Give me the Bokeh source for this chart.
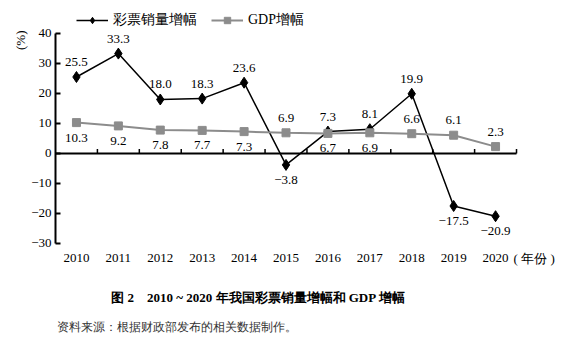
from bokeh.plotting import figure
from bokeh.models import (ColumnDataSource, FixedTicker, Range1d, Title,
                          Label, Legend, LegendItem)
from bokeh.core.properties import value
from bokeh.embed import file_html
from bokeh.resources import INLINE

# ---- data ----
years = [2010, 2011, 2012, 2013, 2014, 2015, 2016, 2017, 2018, 2019, 2020]
lottery_growth = [25.5, 33.3, 18.0, 18.3, 23.6, -3.8, 7.3, 8.1, 19.9, -17.5, -20.9]
gdp_growth = [10.3, 9.2, 7.8, 7.7, 7.3, 6.9, 6.7, 6.9, 6.6, 6.1, 2.3]
lottery_label_above = [True, True, True, True, True, False, True, True, True, False, False]
gdp_label_above = [False, False, False, False, False, True, False, False, True, True, True]
y_ticks = [-30, -20, -10, 0, 10, 20, 30, 40]
series_names = ["彩票销量增幅", "GDP增幅"]

SERIF = "Liberation Serif"
GRAY = "#8c8c8c"


def fmt(v):
    return f"{v:.1f}".replace("-", "\u2212")


lot_src = ColumnDataSource(dict(x=years, y=lottery_growth))
gdp_src = ColumnDataSource(dict(x=years, y=gdp_growth))

above_x, above_y, above_t, below_x, below_y, below_t = [], [], [], [], [], []
for vals, flags in ((lottery_growth, lottery_label_above), (gdp_growth, gdp_label_above)):
    for yr, v, up in zip(years, vals, flags):
        if up:
            above_x.append(yr); above_y.append(v); above_t.append(fmt(v))
        else:
            below_x.append(yr); below_y.append(v); below_t.append(fmt(v))
above_src = ColumnDataSource(dict(x=above_x, y=above_y, txt=above_t))
below_src = ColumnDataSource(dict(x=below_x, y=below_y, txt=below_t))

y_min, y_max = y_ticks[0], y_ticks[-1]
x_lo, x_hi = years[0] - 0.5, years[-1] + 0.5

p = figure(width=578, height=344, output_backend="svg", toolbar_location=None,
           x_axis_location=None,
           x_range=Range1d(x_lo, x_hi + 1.479), y_range=Range1d(y_min - 33.667, y_max + 11),
           min_border_left=55, min_border_right=0, min_border_top=0,
           min_border_bottom=0)
p.title.visible = False
p.outline_line_color = None
p.xgrid.visible = False
p.ygrid.visible = False
p.background_fill_color = "white"
p.border_fill_color = "white"

# y axis
ya = p.yaxis[0]
ya.ticker = FixedTicker(ticks=y_ticks)
ya.bounds = (y_min, y_max)
ya.major_label_overrides = {t: str(t).replace("-", "\u2212") for t in y_ticks if t < 0}
ya.major_tick_in = 5
ya.major_tick_out = 0
ya.minor_tick_line_color = None
ya.axis_line_width = 2
ya.major_tick_line_width = 2
ya.major_label_standoff = 4
ya.major_label_text_font = SERIF
ya.major_label_text_font_size = "13px"
ya.major_label_text_color = "black"

# unit label of the y axis
p.add_layout(Title(text="(%)", align="right", offset=30, standoff=2,
                   text_font=SERIF, text_font_size="13px", text_font_style="normal",
                   text_color="black"), "left")

# year labels under the plot area
yr_src = ColumnDataSource(dict(x=years, y=[y_min] * len(years), txt=[str(y) for y in years]))
p.text("x", "y", text="txt", source=yr_src, y_offset=15,
       text_align="center", text_baseline="middle",
       text_font=value(SERIF), text_font_size="13px", text_color="black")

# zero line with small upward ticks between the years
p.segment(x0=[x_lo], y0=[0], x1=[x_hi], y1=[0], line_color="black", line_width=2)
bounds = [y + 0.5 for y in years]
p.segment(x0=bounds, y0=[0] * len(bounds), x1=bounds, y1=[1.5] * len(bounds),
          line_color="black", line_width=1.5)

# series
l1 = p.line("x", "y", source=lot_src, line_color="black", line_width=1.5)
s1 = p.scatter("x", "y", source=lot_src, marker="diamond", size=11,
               fill_color="black", line_color="black")
l2 = p.line("x", "y", source=gdp_src, line_color=GRAY, line_width=2)
s2 = p.scatter("x", "y", source=gdp_src, marker="square", size=8,
               fill_color=GRAY, line_color=GRAY)

p.text("x", "y", text="txt", source=above_src, y_offset=-15,
       text_align="center", text_baseline="middle",
       text_font=value(SERIF), text_font_size="13px", text_color="black")
p.text("x", "y", text="txt", source=below_src, y_offset=15,
       text_align="center", text_baseline="middle",
       text_font=value(SERIF), text_font_size="13px", text_color="black")

legend = Legend(items=[LegendItem(label=series_names[0], renderers=[l1, s1]),
                       LegendItem(label=series_names[1], renderers=[l2, s2])],
                orientation="horizontal", location=(21, 315),
                border_line_color=None, background_fill_alpha=0,
                glyph_width=32, glyph_height=16, label_standoff=5, spacing=14,
                padding=2, margin=0, label_text_font_size="14px",
                label_text_font=SERIF, label_text_color="black")
p.add_layout(legend)

# texts below the plot area
p.add_layout(Label(x=2020.43, y=y_min - 5, text="( 年份 )",
                   text_align="left", text_baseline="middle",
                   text_font=SERIF, text_font_size="13px", text_color="black"))
p.add_layout(Label(x=2014.34, y=y_min - 18, text="图 2\u30002010 ~ 2020 年我国彩票销量增幅和 GDP 增幅",
                   text_align="center", text_baseline="middle",
                   text_font=SERIF, text_font_size="13px", text_font_style="bold",
                   text_color="black"))
p.add_layout(Label(x=2009.53, y=y_min - 27.7, text="资料来源：根据财政部发布的相关数据制作。",
                   text_align="left", text_baseline="middle",
                   text_font=SERIF, text_font_size="12px", text_color="#333333"))

open("out.html", "w").write(file_html(p, INLINE))
